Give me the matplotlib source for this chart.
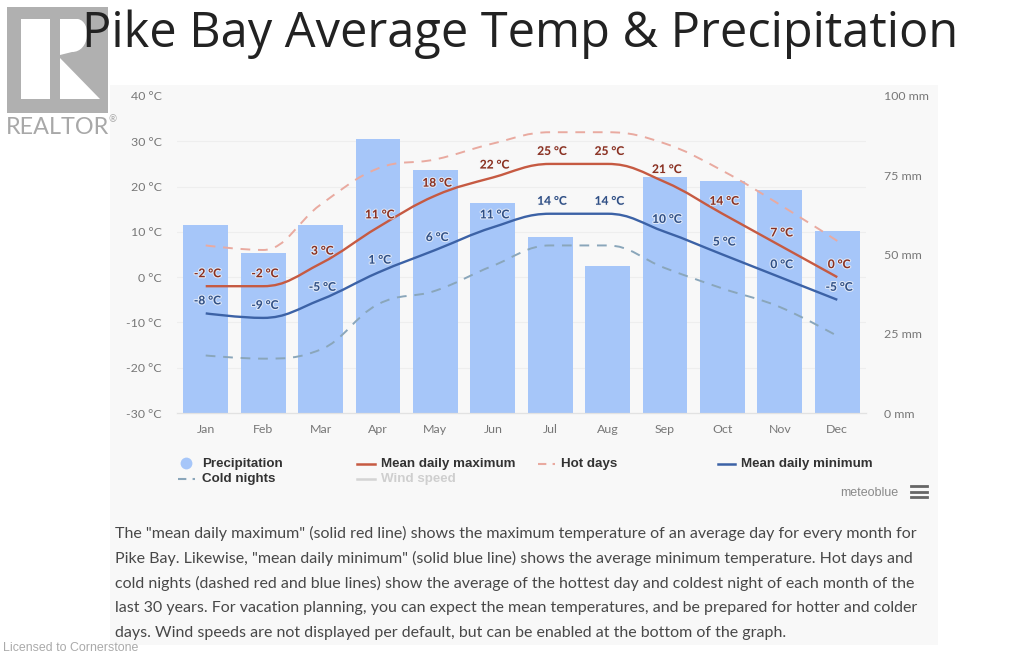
import matplotlib
matplotlib.use('Agg')
import matplotlib.pyplot as plt
import matplotlib.patheffects as pe
from matplotlib.path import Path
from matplotlib.patches import PathPatch, Rectangle

months = ['Jan', 'Feb', 'Mar', 'Apr', 'May', 'Jun', 'Jul', 'Aug', 'Sep', 'Oct', 'Nov', 'Dec']
precip = [59.3, 50.6, 59.3, 86.4, 76.5, 66.3, 55.5, 46.5, 74.4, 73.3, 70.4, 57.4]
mean_max = [-2, -2, 3, 11, 18, 22, 25, 25, 21, 14, 7, 0]
mean_min = [-8, -9, -5, 1, 6, 11, 14, 14, 10, 5, 0, -5]
hot_days = [7, 6, 16, 24, 26, 29.5, 32, 32, 29.5, 23.5, 16, 8]
cold_nights = [-17.3, -18, -16, -6, -3, 2.5, 7, 7, 2, -2.5, -6.6, -13]
temp_ticks = [-30, -20, -10, 0, 10, 20, 30, 40]
mm_ticks = [0, 25, 50, 75, 100]
paragraph = [
    'The "mean daily maximum" (solid red line) shows the maximum temperature of an average day for every month for',
    'Pike Bay. Likewise, "mean daily minimum" (solid blue line) shows the average minimum temperature. Hot days and',
    'cold nights (dashed red and blue lines) show the average of the hottest day and coldest night of each month of the',
    'last 30 years. For vacation planning, you can expect the mean temperatures, and be prepared for hotter and colder',
    'days. Wind speeds are not displayed per default, but can be enabled at the bottom of the graph.',
]

BAR = '#a6c6f9'
RED = '#c65a42'
BLUE = '#3c62a6'
HOT = '#e9aaa0'
COLD = '#8aa6ba'
TICK = '#777777'
NARROW = ['Liberation Sans Narrow', 'Liberation Sans']


def spline(ax, ys, color, lw, ls='-', z=3):
    # same control points a highcharts spline uses
    n = len(ys)
    verts = [(0, ys[0])]
    codes = [Path.MOVETO]
    right = (0, ys[0])
    for i in range(1, n):
        y, prev = ys[i], ys[i - 1]
        if i < n - 1:
            nxt = ys[i + 1]
            lx = (1.5 * i + i - 1) / 2.5
            ly = (1.5 * y + prev) / 2.5
            rx = (1.5 * i + i + 1) / 2.5
            ry = (1.5 * y + nxt) / 2.5
            fix = (ry - ly) * (rx - i) / (rx - lx) + y - ry
            ly += fix
            ry += fix
            if ly > y and ly > prev:
                ly = max(y, prev)
                ry = 2 * y - ly
            elif ly < y and ly < prev:
                ly = min(y, prev)
                ry = 2 * y - ly
            if ry > y and ry > nxt:
                ry = max(y, nxt)
                ly = 2 * y - ry
            elif ry < y and ry < nxt:
                ry = min(y, nxt)
                ly = 2 * y - ry
        else:
            lx, ly, rx, ry = i, y, i, y
        verts += [right, (lx, ly), (i, y)]
        codes += [Path.CURVE4] * 3
        right = (rx, ry)
    ax.add_patch(PathPatch(Path(verts, codes), fill=False, edgecolor=color, lw=lw,
                           ls=ls, zorder=z, capstyle='butt'))


fig = plt.figure(figsize=(10.24, 6.55), dpi=100, facecolor='white')

# page furniture, in pixels
bg = fig.add_axes([0, 0, 1, 1])
bg.set_xlim(0, 1024)
bg.set_ylim(655, 0)
bg.axis('off')
bg.add_patch(Rectangle((110, 85), 828, 560, fc='#f8f8f8', ec='none', zorder=1))

# logo
bg.add_patch(Rectangle((7, 7), 101, 106, fc='#b0b0b0', ec='none', zorder=2))
bg.add_patch(Rectangle((21, 19), 29, 80, fc='white', ec='none', zorder=3))
bowl = Path([(60, 19), (78, 19), (92, 22), (90, 52), (72, 52), (60, 55), (60, 19)],
            [Path.MOVETO, Path.LINETO, Path.CURVE4, Path.CURVE4, Path.CURVE4, Path.LINETO, Path.CLOSEPOLY])
bg.add_patch(PathPatch(bowl, fc='white', ec='none', zorder=3))
leg = Path([(60, 58), (100, 99), (60, 99), (60, 58)],
           [Path.MOVETO, Path.LINETO, Path.LINETO, Path.CLOSEPOLY])
bg.add_patch(PathPatch(leg, fc='white', ec='none', zorder=3))
bg.text(6, 127, 'REALTOR', fontsize=16.8, color='#a8a8a8', family='Lato', va='center', zorder=4)
bg.text(113, 120, '®', fontsize=7, color='#a8a8a8', family='Lato', ha='center', va='center', zorder=4)

bg.text(82, 34, 'Pike Bay Average Temp & Precipitation', fontsize=35.1, color='#222222',
        family='Open Sans', va='center', zorder=5)
bg.text(3, 648, 'Licensed to Cornerstone', fontsize=8.9, color='#aaaaaa',
        family='Liberation Sans', va='center', zorder=5)

for i, line in enumerate(paragraph):
    bg.text(115, 533 + i * 25.1, line, fontsize=11.55, color='#484848', family='Lato',
            va='center', zorder=5)

# legend, placed by hand like the original
bg.plot([186], [463], 'o', ms=8.5, color=BAR, mec='none', zorder=5)
bg.plot([357, 375], [464, 464], color=RED, lw=1.8, zorder=5)
bg.plot([538, 555], [464, 464], color=HOT, lw=1.5, ls=(0, (4, 3)), zorder=5)
bg.plot([718, 735], [464, 464], color=BLUE, lw=1.8, zorder=5)
bg.plot([178, 195], [479, 479], color=COLD, lw=1.5, ls=(0, (4, 3)), zorder=5)
bg.plot([357, 375], [479, 479], color='#d4d4d4', lw=1.8, zorder=5)
legend_text = [(202, 464, 'Precipitation', '#333333'), (381, 464, 'Mean daily maximum', '#333333'),
               (561, 464, 'Hot days', '#333333'), (741, 464, 'Mean daily minimum', '#333333'),
               (202, 479, 'Cold nights', '#333333'), (381, 479, 'Wind speed', '#cfcfcf')]
for x, y, s, c in legend_text:
    bg.text(x, y, s, fontsize=9.6, color=c, family=NARROW, weight='bold', va='center', zorder=5)
bg.text(898, 493, 'meteoblue', fontsize=9, color='#8a8a8a', family=NARROW, ha='right', va='center', zorder=5)
for y in (486, 492, 497):
    bg.plot([911, 927], [y, y], color='#666666', lw=2, zorder=5)

# chart
ax = fig.add_axes([177 / 1024, (655 - 413) / 655, 689 / 1024, 317 / 655])
ax2 = ax.twinx()
ax.set_zorder(ax2.get_zorder() + 1)
ax.patch.set_visible(False)
ax2.patch.set_visible(False)

ax.set_xlim(-0.5, 11.5)
ax.set_ylim(-30, 40)
ax2.set_ylim(0, 100)

ax2.bar(range(12), precip, width=0.78, color=BAR, zorder=2)
ax2.set_axisbelow(True)
ax2.set_yticks([(t + 30) / 70 * 100 for t in temp_ticks], minor=True)
ax2.grid(which='minor', axis='y', color='#eeeeee', lw=0.8)
ax2.tick_params(axis='y', which='minor', length=0)

ax.set_xticks(range(12), months)
ax.set_yticks(temp_ticks, [f'{t} °C' for t in temp_ticks])
ax2.set_yticks(mm_ticks, [f'{m} mm' for m in mm_ticks])
ax.tick_params(axis='x', length=0, pad=8, labelsize=8.9, labelcolor=TICK)
ax.tick_params(axis='y', length=0, pad=11, labelsize=8.9, labelcolor=TICK)
ax2.tick_params(axis='y', which='major', length=0, pad=13, labelsize=8.9, labelcolor=TICK)
for a in (ax, ax2):
    for name, sp in a.spines.items():
        sp.set_visible(name == 'bottom')
        sp.set_color('#e2e2e2')
for t in ax.get_xticklabels() + ax.get_yticklabels() + ax2.get_yticklabels():
    t.set_family('Lato')

spline(ax, hot_days, HOT, 1.4, (0, (5, 4)))
spline(ax, cold_nights, COLD, 1.4, (0, (5, 4)))
spline(ax, mean_max, RED, 1.7, z=4)
spline(ax, mean_min, BLUE, 1.7, z=4)

halo = [pe.withStroke(linewidth=1.6, foreground='#f4f4f6', alpha=0.7)]
for vals, c in ((mean_max, '#8a3020'), (mean_min, '#2f4f85')):
    for i, v in enumerate(vals):
        ax.annotate(f'{v} °C', (i, v), xytext=(1.2, 9), textcoords='offset points', ha='center',
                    va='center', fontsize=8.6, color=c, family='Lato', weight='bold',
                    path_effects=halo, zorder=6)

fig.savefig('out.png', dpi=100, facecolor='white')
